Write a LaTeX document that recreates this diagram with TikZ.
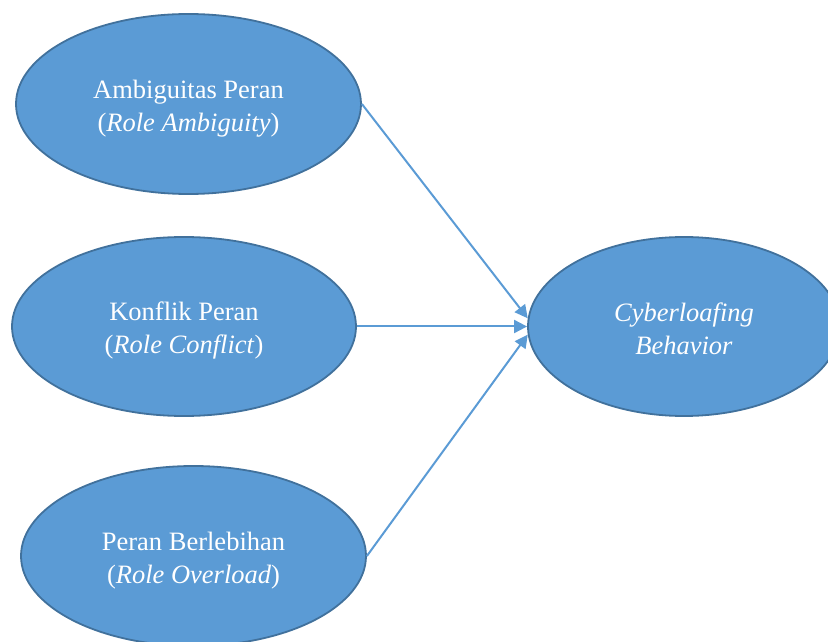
\documentclass[tikz,border=0pt]{standalone}
\usepackage{fontspec}
\setmainfont{Liberation Serif}
\usetikzlibrary{shapes.geometric,arrows.meta}
\definecolor{efill}{HTML}{5B9BD5}
\definecolor{eline}{HTML}{41719C}
\definecolor{aline}{HTML}{5B9BD5}
\newcommand{\vpadtop}{\rule{0pt}{27pt}}
\begin{document}
\begin{tikzpicture}[x=1pt,y=1pt,
  var/.style={ellipse,draw=eline,line width=1.8pt,fill=efill,inner sep=0pt,
    minimum width=345pt,minimum height=180pt,text=white,align=center,
    font=\fontsize{26.5}{33}\selectfont},
  arr/.style={draw=aline,line width=2pt,-{Triangle[length=13pt,width=13pt]}}]
\useasboundingbox (0,0) rectangle (828,641);
\clip (0,0) rectangle (828,641);
\node[var] (ra) at (188.5,537) {\vpadtop Ambiguitas Peran\\(\textit{Role Ambiguity})};
\node[var,minimum width=344pt,minimum height=179pt] (rc) at (184,314.5) {\vpadtop Konflik Peran\\(\textit{Role Conflict})};
\node[var] (ro) at (193.5,85) {\vpadtop Peran Berlebihan\\(\textit{Role Overload})};
\node[var,minimum width=312pt,minimum height=179pt] (cb) at (684,314.5) {\rule{0pt}{24pt}\textit{Cyberloafing}\\\textit{Behavior}};
\draw[arr] (ra.east) -- (cb.177);
\draw[arr] (rc.east) -- (cb.west);
\draw[arr] (ro.east) -- (cb.183);
\end{tikzpicture}
\end{document}
